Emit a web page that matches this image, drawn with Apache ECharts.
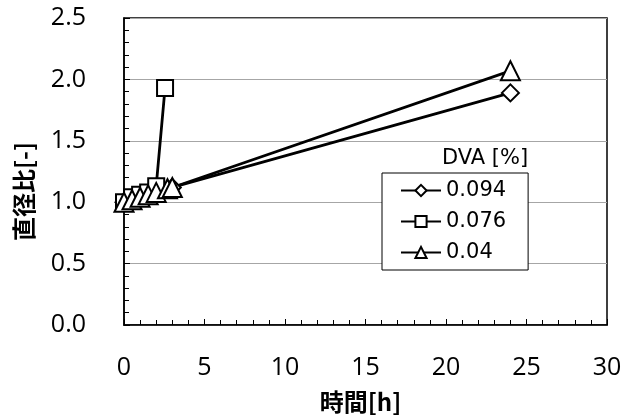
<!DOCTYPE html>
<html><head><meta charset="utf-8">
<script src="https://cdn.jsdelivr.net/npm/echarts@6/dist/echarts.min.js"></script>
<style>html,body{margin:0;padding:0;background:#fff}#c{width:635px;height:419px}</style>
</head><body><div id="c"></div>
<script>
const xTicks = [0, 5, 10, 15, 20, 25, 30];
const yTicks = [0, 0.5, 1.0, 1.5, 2.0, 2.5];
const seriesNames = ['0.094', '0.076', '0.04'];
const t094 = [0, 0.5, 1, 1.5, 2, 3, 24];
const v094 = [1.00, 1.03, 1.05, 1.07, 1.09, 1.12, 1.89];
const t076 = [0, 0.5, 1, 1.5, 2, 2.55];
const v076 = [1.00, 1.04, 1.06, 1.08, 1.13, 1.93];
const t04 = [0, 0.5, 1, 1.5, 2, 2.7, 3, 24];
const v04 = [1.00, 1.02, 1.04, 1.06, 1.08, 1.11, 1.12, 2.07];

const FONT = "'Open Sans', 'Noto Sans CJK JP', sans-serif";
const LFONT = "'DejaVu Sans', sans-serif";
const CJK = "'Noto Sans CJK JP', sans-serif";
const pair = (t, v) => t.map((x, i) => [x, v[i]]);
const mk = (name, data, symbol, size) => ({
  name, type: 'line', data, symbol, symbolSize: size,
  lineStyle: { color: '#000', width: 2.8 },
  itemStyle: { color: '#fff', borderColor: '#000', borderWidth: 2 },
  emphasis: { disabled: true }, animation: false
});
const chart = echarts.init(document.getElementById('c'));
chart.setOption({
  animation: false,
  title: { text: 'DVA [%]', left: 442, top: 148, padding: 0,
    textStyle: { fontFamily: LFONT, fontSize: 21, fontWeight: 'normal', color: '#000' } },
  grid: { left: 124, right: 28, top: 18, bottom: 91, show: true, borderColor: '#000', borderWidth: 1.5 },
  xAxis: {
    type: 'value', min: xTicks[0], max: xTicks[xTicks.length - 1], interval: 5,
    name: '時間[h]', nameLocation: 'middle', nameGap: 65,
    nameTextStyle: { fontFamily: CJK, fontSize: 24, fontWeight: 'bold', color: '#000', padding: [0, 10, 0, 0] },
    axisLine: { lineStyle: { color: '#000', width: 1.5 } },
    axisTick: { inside: true, length: 6, lineStyle: { color: '#000' } },
    minorTick: { show: true, splitNumber: 5, length: 5, lineStyle: { color: '#000' } },
    splitLine: { show: false },
    axisLabel: { fontFamily: FONT, fontSize: 25, color: '#000', margin: 30 }
  },
  yAxis: {
    type: 'value', min: yTicks[0], max: yTicks[yTicks.length - 1], interval: 0.5,
    name: '直径比[-]', nameLocation: 'middle', nameGap: 88, nameRotate: 90,
    nameTextStyle: { fontFamily: CJK, fontSize: 24, fontWeight: 'bold', color: '#000', padding: [0, 40, 0, 0] },
    axisLine: { lineStyle: { color: '#000', width: 1.5 } },
    axisTick: { inside: true, length: 6, lineStyle: { color: '#000' } },
    minorTick: { show: true, splitNumber: 5, length: 5, lineStyle: { color: '#000' } },
    splitLine: { show: true, lineStyle: { color: '#a6a6a6', width: 1.2 } },
    axisLabel: { fontFamily: FONT, fontSize: 25, color: '#000', margin: 38,
      formatter: v => v.toFixed(1) }
  },
  legend: {
    orient: 'vertical', left: 382, top: 173,
    padding: [7, 22, 7, 18], itemGap: 10, itemWidth: 40, itemHeight: 14,
    backgroundColor: '#fff', borderColor: '#000', borderWidth: 1,
    textStyle: { fontFamily: LFONT, fontSize: 21, color: '#000', lineHeight: 21 },
    data: seriesNames
  },
  series: [
    mk(seriesNames[0], pair(t094, v094), 'diamond', 17),
    mk(seriesNames[1], pair(t076, v076), 'rect', 16),
    mk(seriesNames[2], pair(t04, v04), 'triangle', 19)
  ]
});
</script></body></html>
